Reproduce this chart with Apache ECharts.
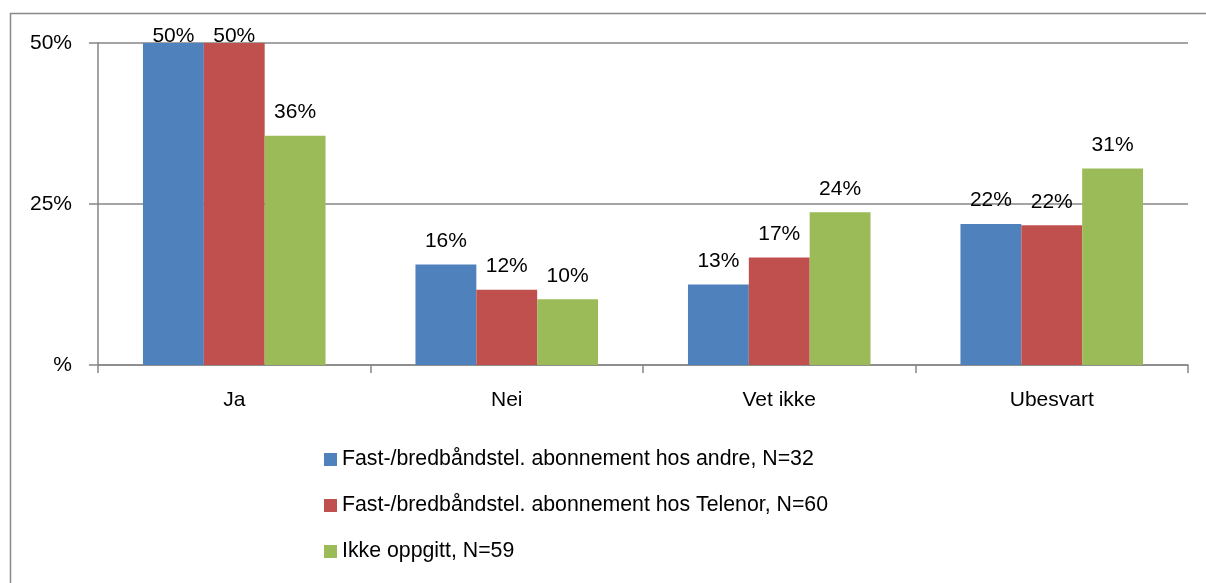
<!DOCTYPE html>
<html>
<head>
<meta charset="utf-8">
<script src="https://cdn.jsdelivr.net/npm/echarts@6/dist/echarts.min.js"></script>
<style>
html,body{margin:0;padding:0;background:#fff;}
#c{width:1206px;height:583px;}
</style>
</head>
<body>
<div id="c"></div>
<script>
const categories = ['Ja', 'Nei', 'Vet ikke', 'Ubesvart'];
const seriesNames = [
  'Fast-/bredbåndstel. abonnement hos andre, N=32',
  'Fast-/bredbåndstel. abonnement hos Telenor, N=60',
  'Ikke oppgitt, N=59'
];
const andre = [50, 15.6, 12.5, 21.9];
const telenor = [50, 11.7, 16.7, 21.7];
const ikkeOppgitt = [35.6, 10.2, 23.7, 30.5];
const yTicks = [0, 25, 50];
const colors = ['#4F81BD', '#C0504D', '#9BBB59'];

const font = 'Liberation Sans';
const fs = 21;
const chart = echarts.init(document.getElementById('c'), null, {renderer: 'canvas'});

function mk(name, values, color) {
  return {
    name: name,
    type: 'bar',
    data: values.map(v => v >= 50 ? {value: v, label: {distance: -4}} : v),
    barGap: '0%',
    barCategoryGap: '33%',
    itemStyle: {color: color},
    label: {
      show: true,
      position: 'top',
      distance: 13,
      color: '#000',
      fontFamily: font,
      fontSize: fs,
      formatter: p => Math.round(p.value) + '%'
    }
  };
}

chart.setOption({
  animation: false,
  backgroundColor: '#fff',
  textStyle: {fontFamily: font},
  graphic: [{
    type: 'rect',
    shape: {x: 10.5, y: 13.5, width: 1300, height: 700},
    style: {fill: 'none', stroke: '#888', lineWidth: 1.5},
    silent: true,
    z: -1
  }],
  grid: {left: 98, right: 18, top: 43, bottom: 218, containLabel: false},
  legend: {
    orient: 'vertical',
    left: 319,
    top: 444,
    icon: 'rect',
    itemWidth: 13,
    itemHeight: 13,
    itemGap: 25,
    textStyle: {fontFamily: font, fontSize: 21.3, color: '#000', padding: [0, 0, 0, 0]},
    data: seriesNames
  },
  xAxis: {
    type: 'category',
    data: categories,
    axisLine: {lineStyle: {color: '#868686', width: 1.5}},
    axisTick: {show: true, length: 8, lineStyle: {color: '#868686', width: 1.5}},
    axisLabel: {color: '#000', fontFamily: font, fontSize: fs, margin: 25}
  },
  yAxis: {
    type: 'value',
    min: 0,
    max: 50,
    interval: 25,
    axisLine: {show: true, lineStyle: {color: '#868686', width: 1.5}},
    axisTick: {show: true, length: 9, lineStyle: {color: '#868686', width: 1.5}},
    splitLine: {show: true, lineStyle: {color: '#868686', width: 1.5}},
    axisLabel: {
      color: '#000', fontFamily: font, fontSize: fs, margin: 26,
      formatter: v => yTicks.includes(v) ? (v === 0 ? '%' : v + '%') : ''
    }
  },
  series: [
    mk(seriesNames[0], andre, colors[0]),
    mk(seriesNames[1], telenor, colors[1]),
    mk(seriesNames[2], ikkeOppgitt, colors[2])
  ]
});
</script>
</body>
</html>
